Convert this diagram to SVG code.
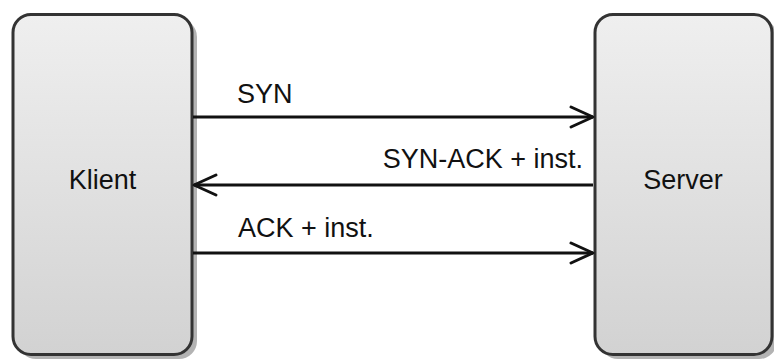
<svg xmlns="http://www.w3.org/2000/svg" width="774" height="360" viewBox="0 0 774 360">
  <defs>
    <linearGradient id="boxFill" x1="0" y1="0" x2="0" y2="1">
      <stop offset="0" stop-color="#efefef"/>
      <stop offset="1" stop-color="#d2d2d2"/>
    </linearGradient>
    <marker id="chevron" viewBox="0 0 26 24" refX="24" refY="12" markerWidth="26" markerHeight="24" markerUnits="userSpaceOnUse" orient="auto">
      <path d="M2,2 L24,12 L2,22" fill="none" stroke="#111" stroke-width="3" stroke-linecap="round" stroke-linejoin="round"/>
    </marker>
  </defs>
  <style>
    .shadow { fill: #b3b3b3; }
    .box { fill: url(#boxFill); stroke: #333; stroke-width: 3; }
    .label { font-family: "Liberation Sans", Arial, sans-serif; font-size: 27px; fill: #111; }
    .link { stroke: #111; stroke-width: 3; fill: none; marker-end: url(#chevron); }
  </style>
  <rect width="774" height="360" fill="#fff"/>

  <g id="klient">
    <rect class="shadow" x="18" y="19" width="179" height="340" rx="18"/>
    <rect class="box" x="13" y="14.5" width="179" height="340" rx="18"/>
    <text class="label" x="102.5" y="189" text-anchor="middle">Klient</text>
  </g>

  <g id="server">
    <rect class="shadow" x="600" y="19" width="177" height="340" rx="18"/>
    <rect class="box" x="595" y="14.5" width="177" height="340" rx="18"/>
    <text class="label" x="683" y="189" text-anchor="middle">Server</text>
  </g>

  <g id="connectors">
    <line class="link" x1="193" y1="117" x2="593" y2="117"/>
    <line class="link" x1="593" y1="185" x2="194" y2="185"/>
    <line class="link" x1="193" y1="253" x2="593" y2="253"/>
    <text class="label" x="237" y="103">SYN</text>
    <text class="label" x="583" y="168" text-anchor="end">SYN-ACK + inst.</text>
    <text class="label" x="238" y="237">ACK + inst.</text>
  </g>
</svg>
